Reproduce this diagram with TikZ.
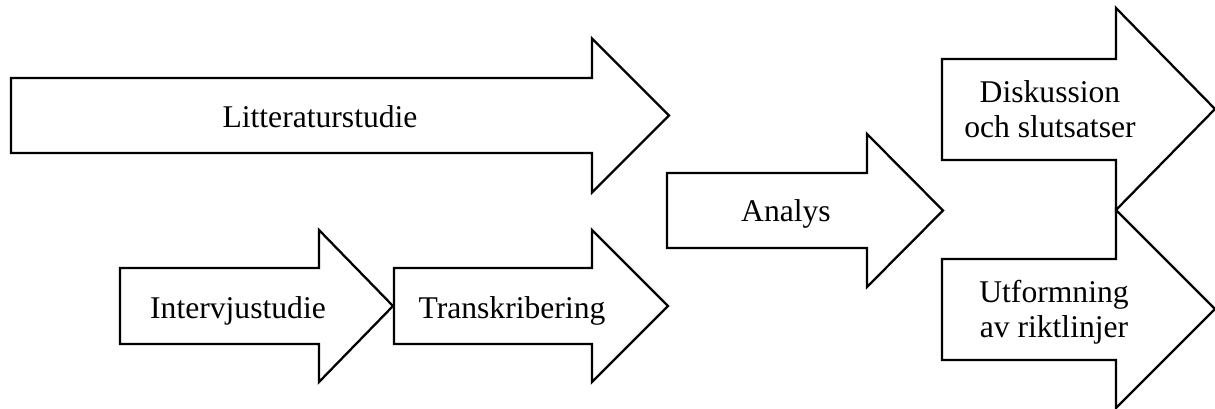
\documentclass[tikz,border=0pt]{standalone}
\usepackage{fontspec}
\setmainfont{Liberation Serif}

\begin{document}
\begin{tikzpicture}[
    x=0.02cm, y=-0.02cm,
    phase/.style={draw, line width=1.3pt, fill=white},
    phasetext/.style={font=\fontsize{18}{19.9}\selectfont, align=center, anchor=base, inner sep=0pt}
]
\useasboundingbox (0,0) rectangle (1215,409);

% Literature study
\draw[phase] (11,78) -- (592,78) -- (592,38.5) -- (669,115.5) -- (592,192.5) -- (592,153) -- (11,153) -- cycle;

% Interviews and transcription
\draw[phase] (120,268) -- (319,268) -- (319,230) -- (393,306) -- (319,382) -- (319,344) -- (120,344) -- cycle;
\draw[phase] (394,268) -- (592,268) -- (592,230) -- (668,306) -- (592,382) -- (592,344) -- (394,344) -- cycle;

% Analysis
\draw[phase] (667,173) -- (867,173) -- (867,134) -- (943,210.5) -- (867,287) -- (867,248) -- (667,248) -- cycle;

% Outcomes
\draw[phase] (942,59) -- (1116,59) -- (1116,8) -- (1215,109) -- (1116,210) -- (1116,160) -- (942,160) -- cycle;
\draw[phase] (942,259) -- (1116,259) -- (1116,210) -- (1215,309) -- (1116,408) -- (1116,360) -- (942,360) -- cycle;

% Labels (two-line labels sit on their last baseline)
\node[phasetext] (litt) at (320,127) {Litteraturstudie};
\node[phasetext] (intervju) at (238,318) {Intervjustudie};
\node[phasetext] (transkr) at (512,318) {Transkribering};
\node[phasetext] (analys) at (786,221) {Analys};
\node[phasetext] (diskussion) at (1050,137) {Diskussion\\och slutsatser};
\node[phasetext] (riktlinjer) at (1054,337) {Utformning\\av riktlinjer};

\end{tikzpicture}
\end{document}
